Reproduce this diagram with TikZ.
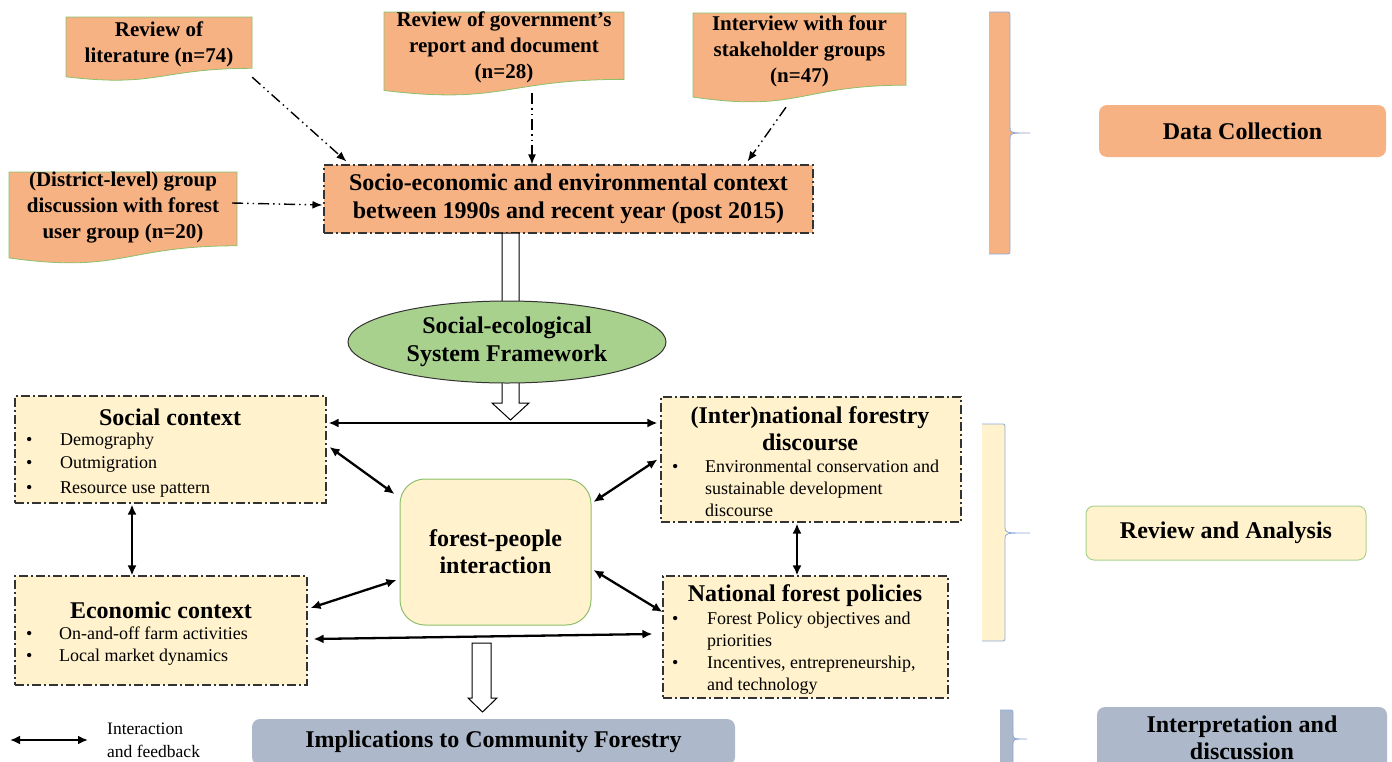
\documentclass[tikz,border=0pt]{standalone}
\usepackage{fontspec}
\setmainfont{Liberation Serif}
\usetikzlibrary{arrows.meta,shapes.geometric,calc}
\definecolor{orangeF}{HTML}{F6B283}
\definecolor{yellowF}{HTML}{FFF2CC}
\definecolor{greenF}{HTML}{A9D18E}
\definecolor{blueF}{HTML}{ADB9CA}
\definecolor{docline}{HTML}{8CC06A}
\definecolor{braceblue}{HTML}{8FAADC}
\definecolor{boxline}{HTML}{333333}
\newcommand\fsz[2]{\fontsize{#1}{#2}\selectfont}
\newcommand\docshape[4]{%
  \filldraw[fill=orangeF, draw=docline, line width=0.8pt] (#1,#2) -- ({#1+#3},#2) -- ({#1+#3},{#2+0.802*#4})
   .. controls ({#1+0.5*#3},{#2+0.802*#4}) and ({#1+0.5*#3},{#2+1.107*#4}) .. (#1,{#2+0.934*#4}) -- cycle;}
\newcommand\bracefill[7]{%
  \fill[#7] (#1,#3) -- ({#2-4},#3) .. controls (#2,#3) .. (#2,{#3+5}) -- (#2,{#6-6})
    .. controls (#2,#6) .. (#5,#6) .. controls (#2,#6) .. (#2,{#6+6}) -- (#2,{#4-5})
    .. controls (#2,#4) .. ({#2-4},#4) -- (#1,#4) -- cycle;
  \draw[braceblue, line width=0.8pt] (#1,#3) -- ({#2-4},#3) .. controls (#2,#3) .. (#2,{#3+5}) -- (#2,{#6-6})
    .. controls (#2,#6) .. (#5,#6) .. controls (#2,#6) .. (#2,{#6+6}) -- (#2,{#4-5})
    .. controls (#2,#4) .. ({#2-4},#4) -- (#1,#4);}
\tikzset{
  ddash/.style={line width=1.4pt, dash pattern=on 11pt off 4pt on 1.5pt off 4pt on 1.5pt off 4pt,
    -{Latex[length=10pt,width=8pt]}},
  bi/.style={line width=2.3pt, {Latex[length=10pt,width=9pt]}-{Latex[length=10pt,width=9pt]}},
  ctxbox/.style={draw=boxline, line width=1.1pt, dash pattern=on 9pt off 3pt on 2pt off 3pt,
    fill=yellowF, inner sep=0},
  hollow/.style={draw=black, fill=white, line width=1pt},
  shapebox/.style={inner sep=0},
  doctext/.style={align=center, font=\bfseries\fsz{21}{26}, inner sep=0},
  title/.style={align=center, font=\bfseries\fsz{24}{27}, inner sep=0},
  blist/.style={anchor=west, align=left, inner sep=0},
  sidebox/.style={rounded corners=8pt, align=center, font=\bfseries\fsz{24}{27}, inner sep=0},
}
\begin{document}
\begin{tikzpicture}[x=1pt, y=-1pt]
\useasboundingbox (0,0) rectangle (1392,761);
\clip (0,0) rectangle (1392,761);

% ---- right-hand braces and stage labels
\bracefill{989}{1010}{12}{254}{1030}{133}{orangeF}
\bracefill{982}{1005}{424}{641}{1030}{533}{yellowF}
\bracefill{1000}{1013}{710}{790}{1027}{739}{blueF}
\node[sidebox, fill=orangeF, minimum width=287pt, minimum height=52pt] (dc) at (1242.5,131) {Data Collection};
\node[sidebox, fill=yellowF, draw=greenF, line width=1pt, minimum width=280pt, minimum height=54pt] (ra) at (1226,533) {Review and Analysis};
\node[sidebox, fill=blueF, minimum width=290pt, minimum height=62pt] (id) at (1242,738) {Interpretation and\\discussion};

% ---- data sources
\docshape{66}{17}{186}{64}
\node[shapebox, minimum width=186pt, minimum height=64pt] (lit) at (159,49) {};
\node[doctext] (litT) at (159,44) {Review of\\literature (n=74)};

\docshape{384}{12}{240}{84}
\node[shapebox, minimum width=240pt, minimum height=84pt] (gov) at (504,54) {};
\node[doctext] (govT) at (504,47) {Review of government's\\report and document\\(n=28)};

\docshape{693}{13}{213}{90}
\node[shapebox, minimum width=213pt, minimum height=90pt] (intv) at (799.5,58) {};
\node[doctext] (intvT) at (799.5,51) {Interview with four\\stakeholder groups\\(n=47)};

\docshape{9}{172}{228}{92}
\node[shapebox, minimum width=228pt, minimum height=92pt] (dist) at (123,218) {};
\node[doctext] (distT) at (123,208) {(District-level) group\\discussion with forest\\user group (n=20)};

\node[ctxbox, fill=orangeF, minimum width=489pt, minimum height=68pt, align=center,
  font=\bfseries\fsz{24}{28}] (socio) at (568.5,199) {Socio-economic and environmental context\\between 1990s and recent year (post 2015)};

\draw[ddash] ([yshift=4pt]lit.south east) -- ([xshift=23pt,yshift=3pt]socio.north west);
\draw[ddash] ([xshift=28pt,yshift=3pt]gov.south) -- ([xshift=28pt]gov.south |- socio.north);
\draw[ddash] ([xshift=-13.5pt,yshift=-4pt]intv.south) -- ([xshift=-66pt,yshift=3pt]socio.north east);
\draw[ddash] ([xshift=-5pt,yshift=15pt]dist.east) -- ([xshift=-1pt,yshift=-6pt]socio.west);

% ---- hollow arrow through the framework
\draw[hollow] (502,233) -- (502,403) -- (492,403) -- (510.5,420) -- (529,403) -- (519,403) -- (519,233) -- cycle;
\node[ellipse, draw=boxline, fill=greenF, line width=1pt, minimum width=318pt, minimum height=82pt,
  inner sep=0, align=center, font=\bfseries\fsz{24}{28}] (sef) at (507,342) {Social-ecological\\System Framework};

% ---- context boxes
\node[ctxbox, minimum width=311pt, minimum height=107pt] (social) at (170.5,449.5) {};
\node[title] (socialT) at (170,417) {Social context};
\node[blist, font=\fsz{18}{23}] (socialL) at (26,465) {\begin{tabular}{@{}p{34pt}@{}l@{}}\textbullet & Demography\\ \textbullet & Outmigration\\[2pt] \textbullet & Resource use pattern\end{tabular}};

\node[ctxbox, minimum width=292pt, minimum height=109pt] (econ) at (161,630.5) {};
\node[title] (econT) at (161,610) {Economic context};
\node[blist, font=\fsz{18}{21.5}] (econL) at (26,646) {\begin{tabular}{@{}p{33pt}@{}l@{}}\textbullet & On-and-off farm activities\\ \textbullet & Local market dynamics\end{tabular}};

\node[ctxbox, minimum width=300pt, minimum height=125pt] (intl) at (811,459.5) {};
\node[title] (intlT) at (810,428.5) {(Inter)national forestry\\discourse};
\node[blist, font=\fsz{18}{22}] (intlL) at (672,490) {\begin{tabular}{@{}p{33pt}@{}l@{}}\textbullet & Environmental conservation and\\ & sustainable development\\ & discourse\end{tabular}};

\node[ctxbox, minimum width=285pt, minimum height=122pt] (nfp) at (805.5,637) {};
\node[title] (nfpT) at (805,596) {National forest policies};
\node[blist, font=\fsz{18}{22}] (nfpL) at (672,653) {\begin{tabular}{@{}p{35pt}@{}l@{}}\textbullet & Forest Policy objectives and\\ & priorities\\ \textbullet & Incentives, entrepreneurship,\\ & and technology\end{tabular}};

\node[rounded corners=25pt, draw=docline, fill=yellowF, line width=1pt, minimum width=191pt,
  minimum height=146pt, inner sep=0, align=center, font=\bfseries\fsz{24}{27}] (fp) at (495.5,552) {forest-people\\interaction};

% ---- interaction arrows
\draw[bi] ([xshift=2pt,yshift=26.5pt]social.east) -- ([xshift=-3pt,yshift=36.5pt]intl.west);
\draw[bi] ([xshift=3pt,yshift=2.5pt]social.east) -- ([xshift=-5pt,yshift=58pt]fp.west);
\draw[bi] ([xshift=-3pt]intl.west) -- ([xshift=2pt,yshift=50pt]fp.east);
\draw[bi] ([xshift=-38.5pt,yshift=-1pt]social.south) -- ([xshift=-38.5pt]social.south |- econ.north);
\draw[bi] ([xshift=3pt,yshift=22.5pt]econ.east) -- ([xshift=-3pt,yshift=-28pt]fp.west);
\draw[bi] ([xshift=6pt,yshift=-8.5pt]econ.east) -- ([xshift=-10pt,yshift=3pt]nfp.west);
\draw[bi] ([xshift=2pt,yshift=-18pt]fp.east) -- ([yshift=25pt]nfp.west);
\draw[bi] ([xshift=-14pt,yshift=-1pt]intl.south) -- ([xshift=-14pt]intl.south |- nfp.north);

% ---- output
\draw[hollow] (472,643) -- (472,698) -- (468,698) -- (482.5,712) -- (497,698) -- (491,698) -- (491,643) -- cycle;
\node[sidebox, fill=blueF, minimum width=483pt, minimum height=46pt] (impl) at (493.5,742) {Implications to Community Forestry};

% ---- legend
\coordinate (legA) at (10,740);
\coordinate (legB) at (88,740);
\draw[bi] (legA) -- (legB);
\node[anchor=west, align=left, inner sep=0, font=\fsz{17.5}{23}] (legT) at (107,740.5) {Interaction\\and feedback};
\end{tikzpicture}
\end{document}
